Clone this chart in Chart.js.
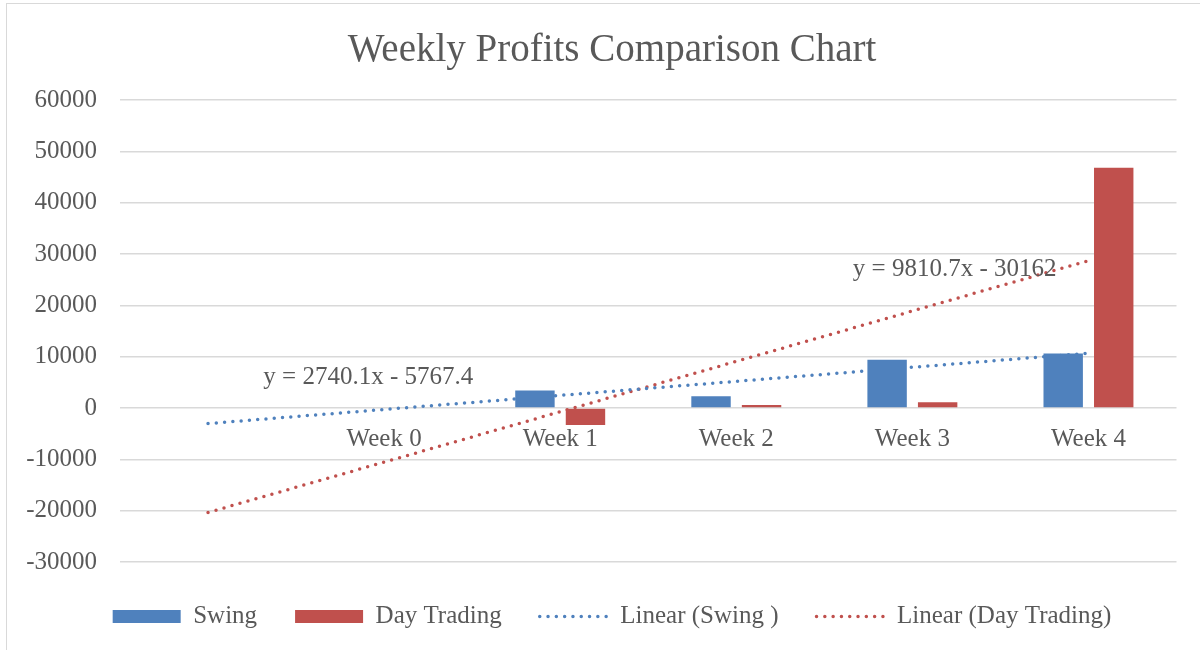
<!DOCTYPE html>
<html><head><meta charset="utf-8">
<script src="https://cdn.jsdelivr.net/npm/chart.js@4.4.1/dist/chart.umd.min.js"></script>
<style>
html,body{margin:0;padding:0;background:#fff;overflow:hidden;width:1200px;height:650px;}
#frame{position:absolute;left:6px;top:3px;width:1400px;height:800px;border:1.5px solid #d9d9d9;box-sizing:border-box;}
#wrap{position:absolute;left:0;top:0;width:1200px;height:650px;}
</style></head><body>
<div id="frame"></div>
<div id="wrap"><canvas id="c" width="1200" height="650"></canvas></div>
<script>
// ---- data ----
const categories = ['', 'Week 0', 'Week 1', 'Week 2', 'Week 3', 'Week 4'];
const swing = [null, null, 3400, 2300, 9400, 10600];
const dayTrading = [null, null, -3300, 600, 1100, 46800];
// trendline endpoints (from displayed equations, first and last category)
const swingTrend = [-3027, null, null, null, null, 10673];
const dayTrend = [-20351, null, null, null, null, 28702];
const seriesNames = ['Swing', 'Day Trading', 'Linear (Swing )', 'Linear (Day Trading)'];
const trendEquations = ['y = 2740.1x - 5767.4', 'y = 9810.7x - 30162'];
const yMin = -30000, yMax = 60000, yStep = 10000;

const FONT = "'Liberation Serif', 'Times New Roman', serif";
const TEXT = '#595959';
const BLUE = '#4f81bd', RED = '#c0504d';

// label anchors in data space (category index, value)
const eqAnchors = [{x: 0.91, y: 5900}, {x: 4.24, y: 27000}];

const eqPlugin = {
  id: 'eqLabels',
  afterDatasetsDraw(chart) {
    const {ctx, scales: {x, y}} = chart;
    ctx.save();
    ctx.font = '25px ' + FONT;
    ctx.fillStyle = TEXT;
    ctx.textAlign = 'center';
    ctx.textBaseline = 'middle';
    trendEquations.forEach((t, i) => {
      ctx.fillText(t, x.getPixelForValue(eqAnchors[i].x), y.getPixelForValue(eqAnchors[i].y));
    });
    ctx.restore();
  }
};

const dotted = {borderDash: [0, 8.3], borderCapStyle: 'round', borderWidth: 3.5};

new Chart(document.getElementById('c'), {
  data: {
    labels: categories,
    datasets: [
      {type: 'bar', label: seriesNames[0], data: swing, backgroundColor: BLUE, order: 1,
       categoryPercentage: 0.574, barPercentage: 0.78},
      {type: 'bar', label: seriesNames[1], data: dayTrading, backgroundColor: RED, order: 1,
       categoryPercentage: 0.574, barPercentage: 0.78},
      Object.assign({type: 'line', label: seriesNames[2], data: swingTrend, borderColor: BLUE,
       backgroundColor: BLUE, pointRadius: 0, spanGaps: true, fill: false, order: 2}, dotted),
      Object.assign({type: 'line', label: seriesNames[3], data: dayTrend, borderColor: RED,
       backgroundColor: RED, pointRadius: 0, spanGaps: true, fill: false, order: 2}, dotted)
    ]
  },
  options: {
    responsive: false,
    animation: false,
    devicePixelRatio: 1,
    layout: {padding: {left: 24, right: 0, top: 0, bottom: 11}},
    scales: {
      x: {
        type: 'category',
        position: {y: 0},
        offset: true,
        grid: {display: false, drawTicks: false},
        border: {display: false},
        ticks: {color: TEXT, font: {family: FONT, size: 25}, padding: 16, maxRotation: 0, autoSkip: false}
      },
      y: {
        type: 'linear',
        position: 'left',
        min: yMin, max: yMax,
        grid: {color: '#d9d9d9', lineWidth: 1.5, drawTicks: false},
        border: {display: false},
        ticks: {stepSize: yStep, color: TEXT, font: {family: FONT, size: 25}, padding: 23,
                callback: v => String(v)},
        afterFit(s) { s.width = 96; }
      },
      ySpacer: {
        type: 'linear',
        position: 'right',
        display: true,
        grid: {display: false, drawTicks: false},
        border: {display: false},
        ticks: {display: false},
        afterFit(s) { s.width = 23.5; }
      },
      xSpacer: {
        type: 'category',
        position: 'bottom',
        display: true,
        grid: {display: false, drawTicks: false},
        border: {display: false},
        ticks: {display: false},
        afterFit(s) { s.height = 4; }
      }
    },
    plugins: {
      title: {
        display: true,
        text: 'Weekly Profits Comparison Chart',
        color: TEXT,
        font: {family: FONT, size: 39, weight: 'normal'},
        padding: {top: 27.5, bottom: 25.7}
      },
      legend: {
        position: 'bottom',
        labels: {
          usePointStyle: true,
          pointStyleWidth: 68,
          boxHeight: 13,
          padding: 38,
          color: TEXT,
          font: {family: FONT, size: 25},
          generateLabels(chart) {
            return chart.data.datasets.map((ds, i) => {
              const isLine = ds.type === 'line';
              return {
                text: ds.label,
                fillStyle: isLine ? 'rgba(0,0,0,0)' : ds.backgroundColor,
                strokeStyle: ds.borderColor || ds.backgroundColor,
                lineWidth: isLine ? 3.5 : 0,
                lineDash: isLine ? [0, 8.3] : [],
                lineCap: 'round',
                pointStyle: isLine ? 'line' : 'rect',
                fontColor: TEXT,
                hidden: false,
                datasetIndex: i
              };
            });
          }
        }
      },
      tooltip: {enabled: false}
    }
  },
  plugins: [eqPlugin]
});
</script>
</body></html>
